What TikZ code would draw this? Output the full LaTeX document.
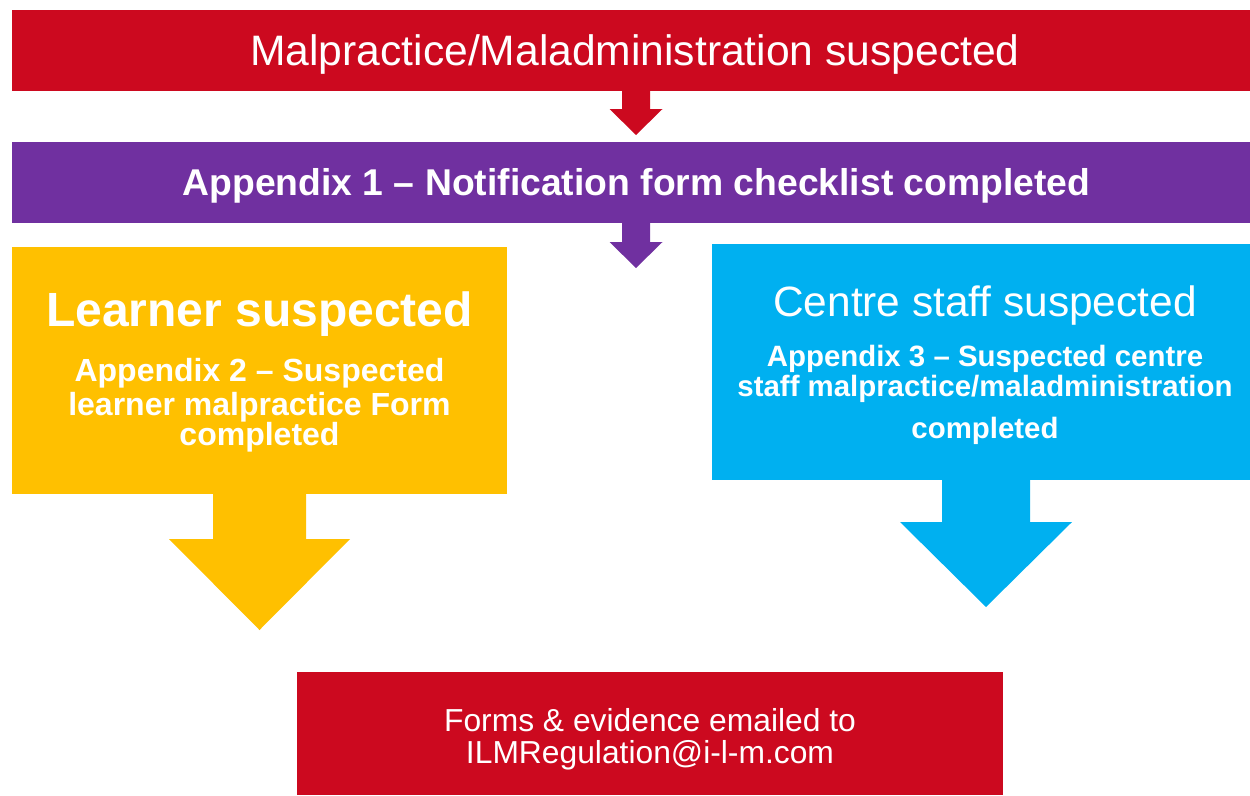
\documentclass[tikz,border=0pt]{standalone}
\usepackage{fontspec}
\setmainfont{Liberation Sans}
\usetikzlibrary{calc}
\definecolor{ilmred}{RGB}{204,9,31}
\definecolor{ilmpurple}{RGB}{112,48,160}
\definecolor{ilmyellow}{RGB}{255,192,0}
\definecolor{ilmblue}{RGB}{0,176,240}
\newcommand\fsz[1]{\fontsize{#1}{#1}\selectfont}
% block arrow: #1 colour, #2 start point, #3 shaft half width, #4 neck depth, #5 head half width, #6 tip depth
\newcommand\blockarr[6]{%
  \fill[#1] ($(#2)+(-#3,-2)$) -- ($(#2)+(#3,-2)$) -- ($(#2)+(#3,#4)$) -- ($(#2)+(#5,#4)$)
    -- ($(#2)+(0,#6)$) -- ($(#2)+(-#5,#4)$) -- ($(#2)+(-#3,#4)$) -- cycle;}
\begin{document}
\begin{tikzpicture}[x=1pt,y=-1pt,
  box/.style={rectangle,inner sep=0pt,outer sep=0pt,draw=none},
  txt/.style={anchor=base,inner sep=0pt,text=white}]
\useasboundingbox (0,0) rectangle (1250,795);
% boxes
\node[box,fill=ilmred,minimum width=1238pt,minimum height=81pt] (top) at (631,50.5) {};
\node[box,fill=ilmpurple,minimum width=1238pt,minimum height=81pt] (app1) at (631,182.5) {};
\node[box,fill=ilmyellow,minimum width=495pt,minimum height=247pt] (learner) at (259.5,370.5) {};
\node[box,fill=ilmblue,minimum width=538pt,minimum height=236pt] (staff) at (981,362) {};
\node[box,fill=ilmred,minimum width=706pt,minimum height=123pt] (email) at (650,733.5) {};
% arrow centre lines
\coordinate (c1) at (636,0);
\coordinate (c3) at (259.5,0);
\coordinate (c4) at (986,0);
\coordinate (s1) at (c1 |- top.south);
\coordinate (s2) at (c1 |- app1.south);
\coordinate (s3) at (c3 |- learner.south);
\coordinate (s4) at (c4 |- staff.south);
\blockarr{ilmred}{s1}{14}{18}{26.5}{44}
\blockarr{ilmpurple}{s2}{14}{19}{26.5}{45}
\blockarr{ilmyellow}{s3}{46.5}{45}{90.5}{136}
\blockarr{ilmblue}{s4}{44}{42}{86}{127}
% texts
\node[txt] (ttop) at (635,65) {\fsz{42.6}Malpractice/Maladministration suspected};
\node[txt] (tapp1) at (636.5,195) {\fsz{37.3}\bfseries Appendix 1 – Notification form checklist completed};
\node[txt] (tl1) at (259.5,326) {\fsz{48}\bfseries Learner suspected};
\node[txt] (tl2) at (259.5,381) {\fsz{32}\bfseries Appendix 2 – Suspected};
\node[txt] (tl3) at (259.5,415) {\fsz{32}\bfseries learner malpractice Form};
\node[txt] (tl4) at (259.5,445) {\fsz{32}\bfseries completed};
\node[txt] (ts1) at (985,316) {\fsz{42.4}Centre staff suspected};
\node[txt] (ts2) at (985,366) {\fsz{29.4}\bfseries Appendix 3 – Suspected centre};
\node[txt] (ts3) at (985,396) {\fsz{29.4}\bfseries staff malpractice/maladministration};
\node[txt] (ts4) at (985,438) {\fsz{29.4}\bfseries completed};
\node[txt] (te1) at (650,731) {\fsz{31.8}Forms \& evidence emailed to};
\node[txt] (te2) at (650,763) {\fsz{31.8}ILMRegulation@i-l-m.com};
\end{tikzpicture}
\end{document}
